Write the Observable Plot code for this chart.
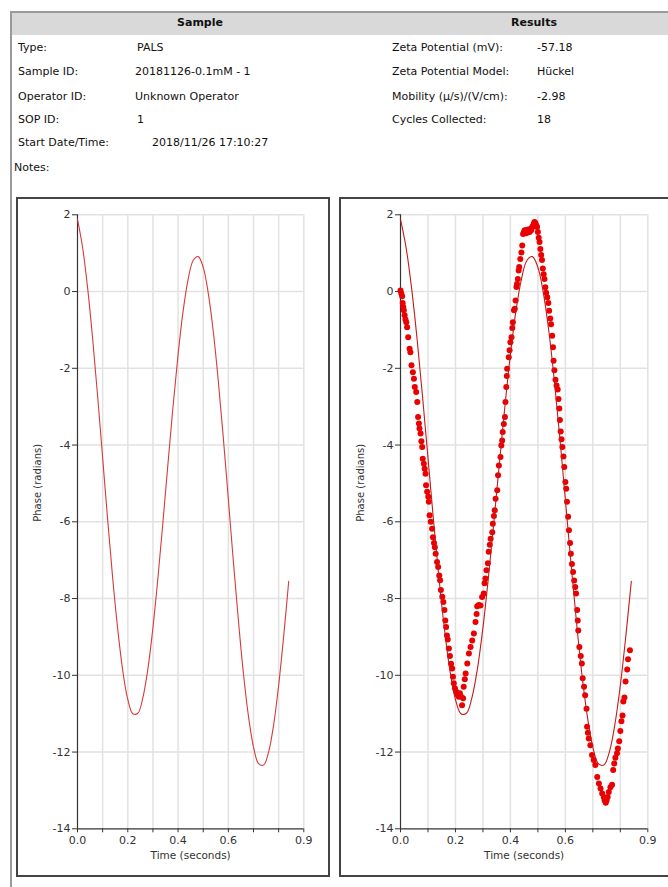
<!DOCTYPE html>
<html><head><meta charset="utf-8">
<script src="https://cdn.jsdelivr.net/npm/d3@7"></script>
<script src="https://cdn.jsdelivr.net/npm/@observablehq/plot@0.6"></script>
<style>
html,body{margin:0;padding:0;width:668px;height:887px;overflow:hidden;background:#fff;font-family:"DejaVu Sans",sans-serif;}
.t{position:absolute;font-size:11px;line-height:14px;color:#111;white-space:nowrap;}
.h{position:absolute;font-size:11px;font-weight:bold;line-height:14px;color:#111;transform:translateX(-50%);}
.box{position:absolute;border:2px solid #444;box-sizing:border-box;}
.chart{position:absolute;}
</style></head><body>
<div id="page"></div>
<script>
// ---- data ----
const sampleLabels = ["Type:", "Sample ID:", "Operator ID:", "SOP ID:", "Start Date/Time:"];
const sampleValues = ["PALS", "20181126-0.1mM - 1", "Unknown Operator", "1", "2018/11/26 17:10:27"];
const resultLabels = ["Zeta Potential (mV):", "Zeta Potential Model:", "Mobility (µ/s)/(V/cm):", "Cycles Collected:"];
const resultValues = ["-57.18", "Hückel", "-2.98", "18"];
const notesLabel = "Notes:";
const headerTitles = ["Sample", "Results"];

const xTicks = [0, 0.1, 0.2, 0.3, 0.4, 0.5, 0.6, 0.7, 0.8, 0.9];
const xTickLabels = ["0.0", "", "0.2", "", "0.4", "", "0.6", "", "", "0.9"];
const yTicks = [2, 0, -2, -4, -6, -8, -10, -12, -14];
const xTitle = "Time (seconds)";
const yTitle = "Phase (radians)";

const fitTime = [0,0.02,0.04,0.06,0.08,0.10,0.12,0.14,0.16,0.18,0.20,0.22,0.24,0.26,0.28,0.30,0.32,0.34,0.36,0.38,0.40,0.42,0.44,0.46,0.48,0.50,0.52,0.54,0.56,0.58,0.60,0.62,0.64,0.66,0.68,0.70,0.72,0.74,0.76,0.78,0.80,0.82,0.84];
const fitPhase = [1.88,1.16,0.11,-1.21,-2.72,-4.33,-5.95,-7.47,-8.80,-9.88,-10.63,-11.00,-10.99,-10.58,-9.83,-8.76,-7.45,-5.99,-4.47,-2.99,-1.64,-0.51,0.32,0.81,0.91,0.63,-0.04,-1.04,-2.33,-3.82,-5.42,-7.04,-8.58,-9.96,-11.07,-11.87,-12.30,-12.34,-12.00,-11.29,-10.26,-8.98,-7.55];

const dotTime = [0.000,0.003,0.006,0.008,0.010,0.012,0.015,0.018,0.021,0.024,0.028,0.033,0.036,0.040,0.045,0.049,0.052,0.057,0.061,0.064,0.067,0.069,0.073,0.076,0.079,0.081,0.085,0.088,0.091,0.093,0.097,0.101,0.103,0.106,0.110,0.115,0.118,0.122,0.125,0.128,0.133,0.137,0.141,0.144,0.147,0.152,0.156,0.160,0.163,0.166,0.169,0.172,0.176,0.180,0.184,0.188,0.191,0.194,0.198,0.203,0.207,0.212,0.216,0.220,0.224,0.228,
0.230,0.234,0.237,0.243,0.249,0.255,0.261,0.267,0.273,0.277,0.279,0.285,0.291,0.297,0.303,0.306,0.309,0.313,0.318,0.321,0.325,0.328,0.334,0.336,0.340,0.343,0.346,0.352,0.355,0.358,0.364,0.367,0.370,0.372,0.376,0.380,0.382,0.385,0.387,0.388,0.394,0.397,0.400,0.404,0.407,0.409,0.413,0.416,0.419,0.422,0.424,0.427,0.430,0.432,0.436,0.440,0.443,0.446,0.449,0.452,0.455,0.458,0.461,0.464,0.467,0.470,0.473,0.476,0.479,0.482,0.485,0.488,0.491,0.494,0.497,0.500,0.503,0.506,0.509,0.512,0.515,0.518,0.521,0.524,0.527,0.530,0.534,0.538,0.541,0.545,0.548,0.552,0.555,0.557,0.560,0.564,0.568,0.572,0.575,0.578,0.580,0.583,0.586,0.589,0.593,0.596,0.600,0.603,0.606,0.610,0.613,0.617,0.620,0.624,0.628,0.632,0.636,0.639,0.643,0.645,0.647,0.651,0.656,0.660,0.663,0.668,0.672,0.677,0.679,0.682,0.685,0.691,0.697,0.703,0.709,0.716,0.722,0.728,0.734,0.740,0.743,0.747,0.750,0.754,0.758,0.764,0.770,0.774,0.778,0.782,0.788,0.791,0.796,0.800,0.804,0.808,0.811,0.815,0.819,0.825,0.828,0.835];
const dotPhase = [0.03,-0.05,-0.12,-0.30,-0.40,-0.49,-0.62,-0.73,-0.80,-0.93,-1.19,-1.49,-1.58,-1.92,-2.10,-2.27,-2.49,-2.62,-2.88,-3.27,-3.44,-3.57,-3.70,-3.90,-4.05,-4.36,-4.49,-4.62,-4.75,-5.05,-5.22,-5.35,-5.48,-5.83,-6.00,-6.18,-6.40,-6.55,-6.66,-6.83,-7.05,-7.18,-7.40,-7.52,-7.78,-7.95,-8.09,-8.30,-8.57,-8.74,-8.96,-9.07,-9.30,-9.50,-9.70,-9.82,-10.04,-10.21,-10.34,-10.43,-10.50,-10.56,-10.47,-10.55,-10.78,-10.60,
-10.30,-10.10,-9.95,-9.69,-9.43,-9.26,-9.09,-8.91,-8.61,-8.40,-8.20,-8.17,-8.18,-7.96,-7.87,-7.60,-7.48,-7.26,-7.08,-6.78,-6.60,-6.44,-6.27,-6.05,-5.85,-5.70,-5.40,-5.18,-4.79,-4.53,-4.31,-4.01,-3.88,-3.66,-3.45,-3.27,-2.88,-2.49,-2.20,-2.01,-1.71,-1.53,-1.32,-1.19,-0.95,-0.80,-0.49,-0.45,-0.23,0.12,0.20,0.33,0.55,0.64,0.85,1.02,1.20,1.50,1.55,1.60,1.59,1.52,1.55,1.62,1.59,1.55,1.63,1.60,1.68,1.70,1.77,1.81,1.78,1.72,1.68,1.55,1.40,1.29,1.11,0.95,0.82,0.60,0.45,0.33,0.11,-0.03,-0.15,-0.30,-0.50,-0.70,-0.85,-1.15,-1.45,-1.80,-2.05,-2.30,-2.45,-2.55,-2.80,-3.05,-3.35,-3.65,-3.85,-4.05,-4.30,-4.57,-4.96,-5.14,-5.48,-5.87,-6.22,-6.55,-6.83,-7.10,-7.31,-7.53,-7.70,-7.87,-8.30,-8.57,-8.83,-9.26,-9.50,-9.69,-10.08,-10.30,-10.52,-10.87,-11.34,-11.50,-11.65,-11.82,-12.08,-12.21,-12.34,-12.65,-12.82,-12.95,-13.08,-13.18,-13.26,-13.32,-13.26,-13.17,-13.04,-12.92,-12.85,-12.47,-12.30,-12.15,-12.03,-11.91,-11.72,-11.45,-11.20,-11.05,-10.68,-10.58,-10.16,-9.85,-9.58,-9.35];

// ---- layout ----
const page = document.getElementById("page");
function add(cls, text, left, top, extra) {
  const d = document.createElement("div");
  d.className = cls;
  if (text != null) d.textContent = text;
  d.style.left = left + "px";
  d.style.top = top + "px";
  if (extra) Object.assign(d.style, extra);
  page.appendChild(d);
  return d;
}
// frame lines & header band
add("", null, 12, 13, {position:"absolute", width:"656px", height:"22px", background:"#d9d9d9"});
add("", null, 10, 11, {position:"absolute", width:"658px", height:"2px", background:"#9a9a9a"});
add("", null, 10, 11, {position:"absolute", width:"2px", height:"876px", background:"#9a9a9a"});
add("h", headerTitles[0], 200, 16);
add("h", headerTitles[1], 534, 16);

const rowY = [41, 65, 90, 113, 136];
const sampleValueX = [137, 135, 135, 137, 152];
sampleLabels.forEach((s, i) => add("t", s, 18, rowY[i]));
sampleValues.forEach((s, i) => add("t", s, sampleValueX[i], rowY[i]));
resultLabels.forEach((s, i) => add("t", s, 392, rowY[i]));
resultValues.forEach((s, i) => add("t", s, 537, rowY[i]));
add("t", notesLabel, 14, 161);

// chart boxes
add("box", null, 16, 197, {width:"314px", height:"680px"});
add("box", null, 339, 197, {width:"360px", height:"680px"});

const fit = fitTime.map((t, i) => ({t, p: fitPhase[i]}));
const pts = dotTime.map((t, i) => ({t, p: dotPhase[i]}));
const labelOf = new Map(xTicks.map((v, i) => [v, xTickLabels[i]]));

function chart(width, marginRight, withDots) {
  return Plot.plot({
    width, height: 676,
    marginLeft: 59, marginRight, marginTop: 15.3, marginBottom: 46.7,
    style: {fontFamily: "'DejaVu Sans', sans-serif", fontSize: "11px", color: "#333", background: "transparent", overflow: "visible"},
    x: {domain: [0, 0.9], axis: null},
    y: {domain: [-14, 2], axis: null},
    marks: [
      Plot.gridX(xTicks.filter(v => v > 0), {stroke: "#e2e2e2", strokeOpacity: 1, strokeWidth: 1.5}),
      Plot.gridY(yTicks.filter(v => v > -14), {stroke: "#e2e2e2", strokeOpacity: 1, strokeWidth: 1.5}),
      Plot.axisY(yTicks, {tickSize: 5, tickPadding: 2, tickFormat: d => String(d), label: null}),
      Plot.axisX(xTicks, {tickSize: 4, tickPadding: 3, tickFormat: d => labelOf.get(d), label: null}),
      Plot.ruleX([0], {stroke: "#333", strokeWidth: 1.2}),
      Plot.ruleY([-14], {stroke: "#333", strokeWidth: 1.2}),
      Plot.text([yTitle], {text: d => d, frameAnchor: "left", dx: -40, rotate: -90, fontSize: 10, fill: "#333"}),
      Plot.text([xTitle], {text: d => d, frameAnchor: "bottom", dy: 30, fontSize: 10.5, fill: "#333"}),
      withDots ? Plot.dot(pts, {x: "t", y: "p", r: 3, fill: "#ea0000", stroke: "none"}) : null,
      Plot.line(fit, {x: "t", y: "p", stroke: withDots ? "#c41a1a" : "#d83a3a", strokeWidth: 1.1, curve: "catmull-rom"})
    ]
  });
}
const c1 = chart(310, 24.7, false);
c1.classList.add("chart"); c1.style.left = "18px"; c1.style.top = "199px";
page.appendChild(c1);
const c2 = chart(327, 20.7, true);
c2.classList.add("chart"); c2.style.left = "341px"; c2.style.top = "199px";
page.appendChild(c2);
</script>
</body></html>
